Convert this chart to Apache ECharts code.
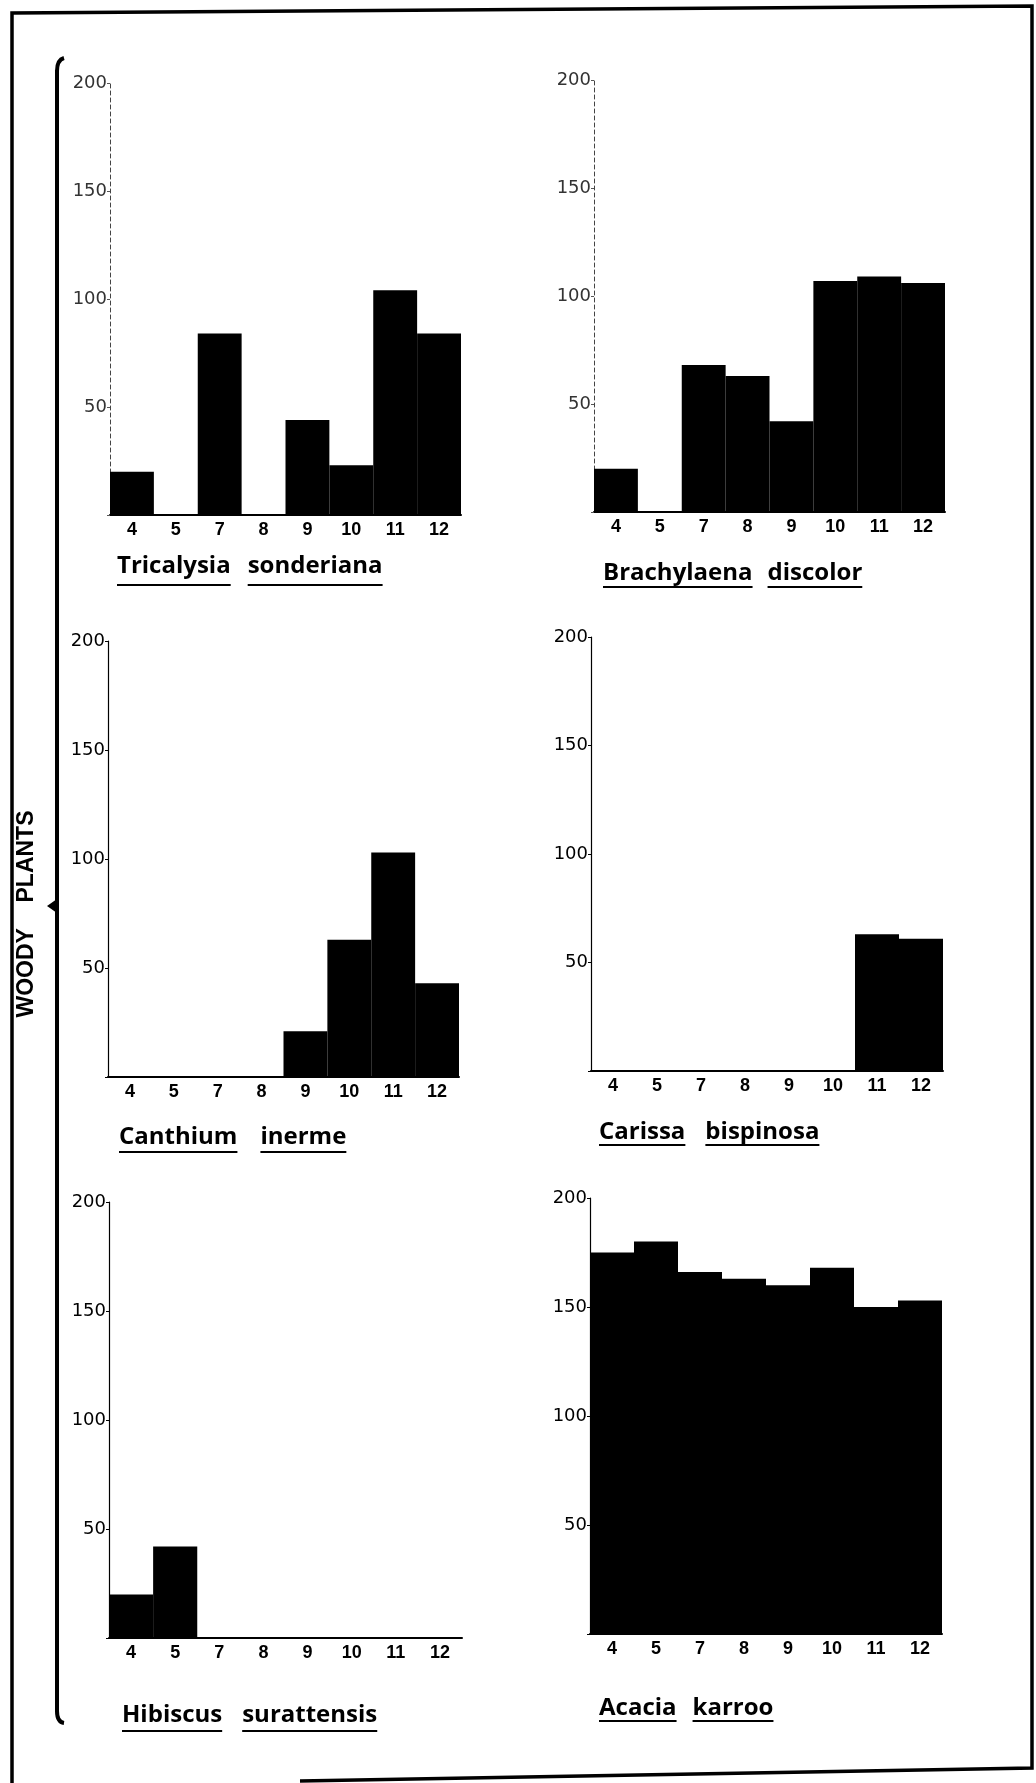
<!DOCTYPE html>
<html>
<head>
<meta charset="utf-8">
<script src="https://cdn.jsdelivr.net/npm/echarts@6/dist/echarts.min.js"></script>
<style>
  html, body { margin: 0; padding: 0; background: #fff; }
  #chart { width: 1036px; height: 1783px; }
</style>
</head>
<body>
<div id="chart"></div>
<script>
// Months sampled (no sample in month 6)
const months = ['4', '5', '7', '8', '9', '10', '11', '12'];
const yTickStep = 50;
const yMax = 200;

// Counts per month for each woody species
const tricalysia  = [20, 0, 84, 0, 44, 23, 104, 84];
const brachylaena = [20, 0, 68, 63, 42, 107, 109, 106];
const canthium    = [0, 0, 0, 0, 21, 63, 103, 43];
const carissa     = [0, 0, 0, 0, 0, 0, 63, 61];
const hibiscus    = [20, 42, 0, 0, 0, 0, 0, 0];
const acacia      = [175, 180, 166, 163, 160, 168, 150, 153];

// Species names, genus and epithet underlined separately
const speciesNames = [
  ['Tricalysia', 'sonderiana'],
  ['Brachylaena', 'discolor'],
  ['Canthium', 'inerme'],
  ['Carissa', 'bispinosa'],
  ['Hibiscus', 'surattensis'],
  ['Acacia', 'karroo']
];
const groupLabel = 'WOODY    PLANTS';

const seriesValues = [tricalysia, brachylaena, canthium, carissa, hibiscus, acacia];

// Panel placement (plot area of each histogram)
const panels = [
  { left: 110, top: 83,   width: 351, height: 432, faded: true },
  { left: 594, top: 80,   width: 351, height: 432, faded: true },
  { left: 108, top: 641,  width: 351, height: 436 },
  { left: 591, top: 637,  width: 352, height: 434 },
  { left: 109, top: 1202, width: 353, height: 436 },
  { left: 590, top: 1198, width: 352, height: 436 }
];
// Caption placement: start x, text middle y, underline y, gap between words
const captions = [
  { x: 117, y: 566,  u: 585,  gap: 17 },
  { x: 603, y: 573,  u: 587,  gap: 15 },
  { x: 119, y: 1137, u: 1152, gap: 23 },
  { x: 599, y: 1132, u: 1145, gap: 20 },
  { x: 122, y: 1715, u: 1731, gap: 20 },
  { x: 599, y: 1708, u: 1721, gap: 16 }
];

const captionFont = '700 24px "Open Sans"';

const chart = echarts.init(document.getElementById('chart'), null, { renderer: 'canvas' });

const grid = [], xAxis = [], yAxis = [], series = [];
panels.forEach((p, i) => {
  grid.push({ left: p.left, top: p.top, width: p.width, height: p.height, containLabel: false });
  xAxis.push({
    type: 'category',
    gridIndex: i,
    data: months,
    axisLine: { show: true, lineStyle: { color: '#000', width: 2 } },
    axisTick: { show: false },
    axisLabel: {
      interval: 0, color: '#000', fontSize: 18, fontWeight: 'bold',
      fontFamily: '"Liberation Sans", Arial, sans-serif', margin: 6
    },
    splitLine: { show: false }
  });
  yAxis.push({
    type: 'value',
    gridIndex: i,
    min: 0,
    max: yMax,
    interval: yTickStep,
    axisLine: {
      show: true,
      lineStyle: p.faded ? { color: '#444', width: 1, type: [4, 3] } : { color: '#000', width: 1.2 }
    },
    axisTick: { show: true, length: 3, lineStyle: { color: p.faded ? '#555' : '#000' } },
    axisLabel: {
      color: p.faded ? '#333' : '#000',
      fontSize: 18,
      fontFamily: '"DejaVu Sans", sans-serif',
      margin: 3,
      formatter: v => (v === 0 ? '' : String(v))
    },
    splitLine: { show: false }
  });
  series.push({
    type: 'bar',
    xAxisIndex: i,
    yAxisIndex: i,
    data: seriesValues[i],
    barCategoryGap: '0%',
    itemStyle: { color: '#000' },
    silent: true
  });
});

// Measure caption words so underlines follow the text
const ctx = document.createElement('canvas').getContext('2d');
ctx.font = captionFont;

const graphic = [];
captions.forEach((c, i) => {
  let x = c.x;
  speciesNames[i].forEach(word => {
    const w = ctx.measureText(word).width;
    graphic.push({
      type: 'text',
      x: x, y: c.y,
      style: { text: word, font: captionFont, fill: '#000', textAlign: 'left', textVerticalAlign: 'middle', align: 'left', verticalAlign: 'middle' }
    });
    graphic.push({
      type: 'line',
      shape: { x1: x, y1: c.u, x2: x + w, y2: c.u },
      style: { stroke: '#000', lineWidth: 2 }
    });
    x += w + c.gap;
  });
});

// Outer frame
graphic.push({
  type: 'polyline',
  shape: { points: [[300, 1781], [1032, 1768], [1032, 6], [12, 13], [12, 1783]] },
  style: { stroke: '#000', lineWidth: 3.5, fill: null }
});
// Bracket grouping the woody species, curled at both ends
graphic.push({
  type: 'polyline',
  shape: { points: [[57, 1712], [57, 70]] },
  style: { stroke: '#000', lineWidth: 4, fill: null }
});
graphic.push({
  type: 'bezierCurve',
  shape: { x1: 57, y1: 71, cpx1: 57, cpy1: 60, x2: 64, y2: 58 },
  style: { stroke: '#000', lineWidth: 4, fill: null }
});
graphic.push({
  type: 'bezierCurve',
  shape: { x1: 57, y1: 1711, cpx1: 57, cpy1: 1722, x2: 64, y2: 1723 },
  style: { stroke: '#000', lineWidth: 4, fill: null }
});
graphic.push({
  type: 'polygon',
  shape: { points: [[47, 906], [57, 899], [57, 913]] },
  style: { fill: '#000' }
});
graphic.push({
  type: 'text',
  x: 27, y: 914,
  rotation: Math.PI / 2,
  style: { text: groupLabel, font: 'bold 23px "Liberation Sans"', fill: '#000', textAlign: 'center', textVerticalAlign: 'middle', align: 'center', verticalAlign: 'middle' }
});

chart.setOption({
  animation: false,
  backgroundColor: '#fff',
  grid, xAxis, yAxis, series,
  graphic: { elements: graphic }
});
</script>
</body>
</html>
